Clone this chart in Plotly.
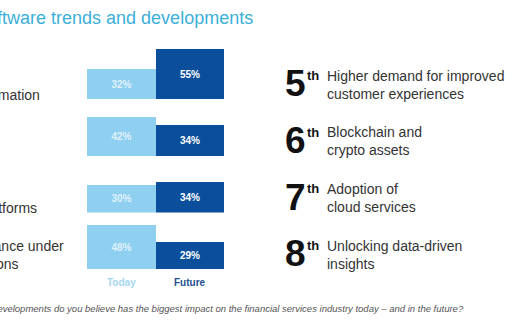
import plotly.graph_objects as go

W, H = 516, 323

# ---- data ----
categories = ["Automation", "Cybersecurity", "Platforms", "Compliance under<br>regulations"]
series = ["Today", "Future"]
today = [32, 42, 30, 48]
future = [55, 34, 34, 29]
ranks = ["5", "6", "7", "8"]
rank_suffix = "th"
rank_items = [
    "Higher demand for improved<br>customer experiences",
    "Blockchain and<br>crypto assets",
    "Adoption of<br>cloud services",
    "Unlocking data-driven<br>insights",
]
title = "Software trends and developments"
question = ("Which of the following software trends and developments do you believe has the "
            "biggest impact on the financial services industry today \u2013 and in the future?")

# ---- style ----
FONT = "Liberation Sans, Arial, sans-serif"
LIGHT = "#8fd0f1"
DARK = "#0b4f9c"
TITLE_C = "#3aafd9"
TEXT_C = "#333333"


def px(x):
    return x / W


def py(y):
    return 1 - y / H


baselines = [99, 156, 212.5, 269]   # pixel baseline of each row
scale = 0.91                         # pixels per percentage point
ymax = 60

fig = go.Figure()
layout_axes = {}
for i in range(len(categories)):
    ax = "" if i == 0 else str(i + 1)
    vals = [today[i], future[i]]
    fig.add_trace(go.Bar(
        x=series, y=vals, xaxis="x" + ax, yaxis="y" + ax,
        marker=dict(color=[LIGHT, DARK], line_width=0),
        text=[f"{v}%" for v in vals], textposition="inside", insidetextanchor="middle",
        textangle=0,
        textfont=dict(color=["rgba(255,255,255,0.72)", "#ffffff"], size=10, family=FONT, weight="bold"),
        hoverinfo="skip", showlegend=False, cliponaxis=False,
    ))
    top = baselines[i] - ymax * scale
    layout_axes["xaxis" + ax] = dict(domain=[87 / W, 224 / W], range=[-0.5, 1.5], visible=False,
                                     anchor="y" + ax, fixedrange=True)
    layout_axes["yaxis" + ax] = dict(domain=[py(baselines[i]), py(top)], range=[0, ymax],
                                     visible=False, anchor="x" + ax, fixedrange=True)

ann = []
# title (cropped at left edge)
ann.append(dict(text=title, x=px(255), y=py(18), xref="paper", yref="paper",
                xanchor="right", yanchor="middle", showarrow=False,
                font=dict(family=FONT, size=18, color=TITLE_C)))
# left category labels (cropped)
label_pos = [(42, 95), (-8, 137), (39, 208), (66, 255)]
for cat, (lx, ly) in zip(categories, label_pos):
    ann.append(dict(text=cat, x=px(lx), y=py(ly), xref="paper", yref="paper",
                    xanchor="right", yanchor="middle", align="left", showarrow=False,
                    font=dict(family=FONT, size=14, color=TEXT_C)))
# Today / Future labels
for s, c in zip(series, ["#a3d6ef", "#1d4f91"]):
    ann.append(dict(text=f"<b>{s}</b>", x=s, y=py(282.5), xref="x4", yref="paper",
                    xanchor="center", yanchor="middle", showarrow=False,
                    font=dict(family=FONT, size=10, color=c)))
# right ranking list
for i, (r, item) in enumerate(zip(ranks, rank_items)):
    cy = baselines[i] - 14.5
    ann.append(dict(text=f"<b>{r}</b>", x=px(283), y=py(cy - 1), xref="paper", yref="paper",
                    xanchor="left", yanchor="middle", showarrow=False,
                    font=dict(family=FONT, size=37, color="#111111")))
    ann.append(dict(text=f"<b>{rank_suffix}</b>", x=px(305), y=py(cy - 9.5), xref="paper", yref="paper",
                    xanchor="left", yanchor="middle", showarrow=False,
                    font=dict(family=FONT, size=13, color="#111111")))
    ann.append(dict(text=item, x=px(325), y=py(cy), xref="paper", yref="paper",
                    xanchor="left", yanchor="middle", align="left", showarrow=False,
                    font=dict(family=FONT, size=14, color=TEXT_C)))
# question footnote (cropped)
ann.append(dict(text=f"<i>{question}</i>", x=px(466), y=py(308), xref="paper", yref="paper",
                xanchor="right", yanchor="middle", showarrow=False,
                font=dict(family=FONT, size=9.5, color="#555555")))

fig.update_layout(
    width=W, height=H, margin=dict(l=0, r=0, t=0, b=0),
    paper_bgcolor="white", plot_bgcolor="white",
    bargap=0, showlegend=False, annotations=ann,
    font=dict(family=FONT),
    **layout_axes,
)

fig.write_html("out.html", include_plotlyjs=True, config={"displayModeBar": False})
